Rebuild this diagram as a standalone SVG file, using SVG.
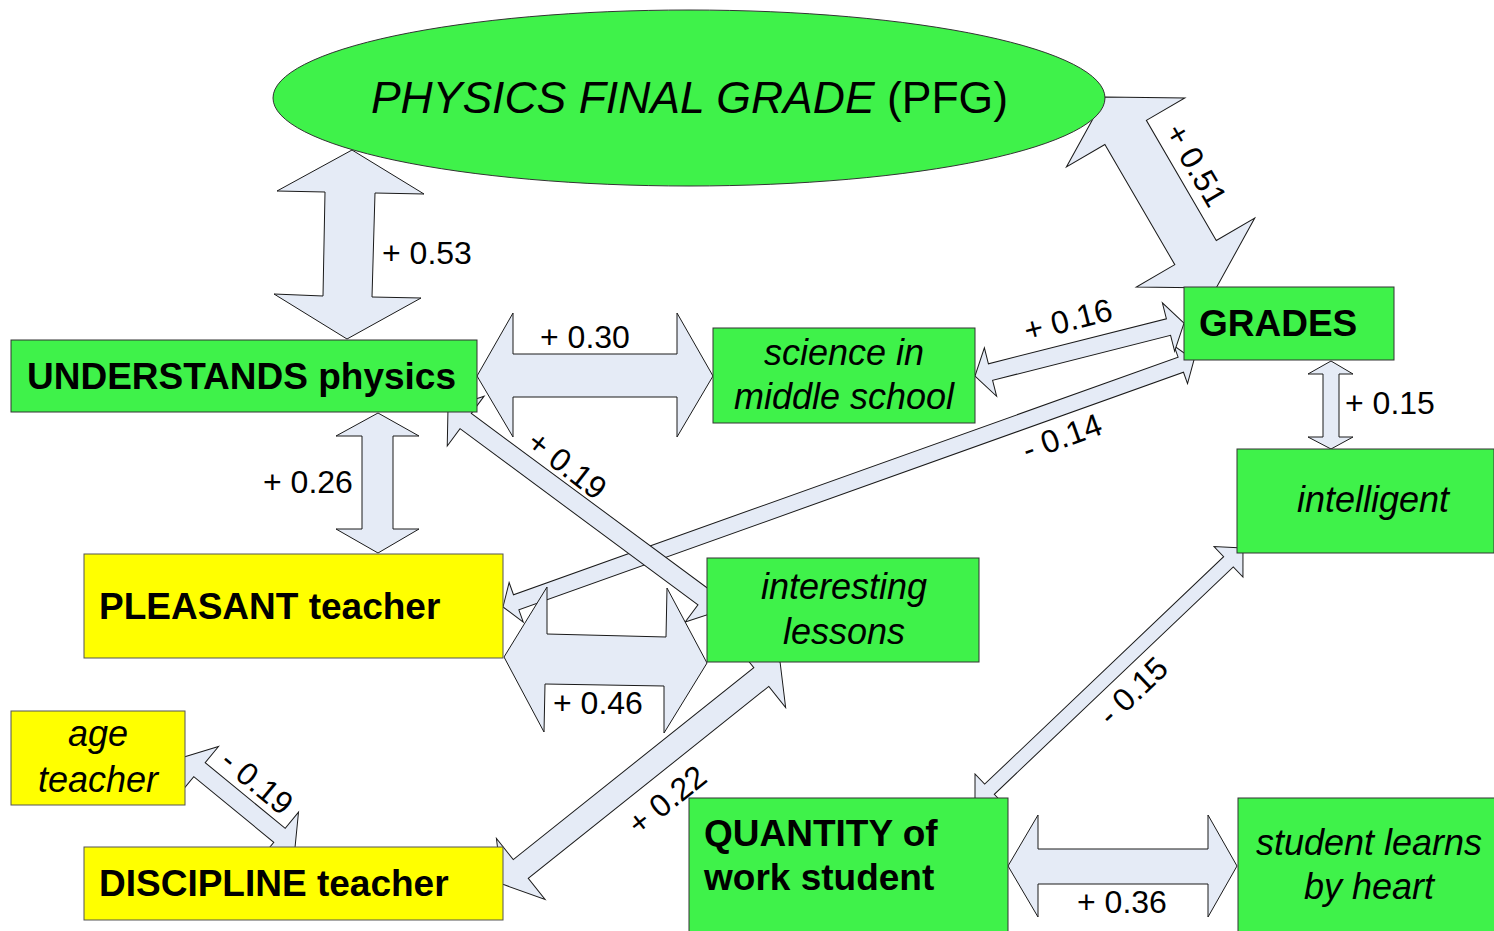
<svg xmlns="http://www.w3.org/2000/svg" width="1494" height="931" viewBox="0 0 1494 931">
<style>
.arr{fill:#e5ebf6;stroke:#1a1a1a;stroke-width:1}
.g{fill:#3ff24a;stroke:#333;stroke-width:1}
.y{fill:#ffff00;stroke:#555;stroke-width:1}
text{font-family:"Liberation Sans",Arial,sans-serif;fill:#000}
.b{font-size:37px;font-weight:bold}
.i{font-size:36px;font-style:italic}
.n{font-size:32px}
</style>
<rect width="1494" height="931" fill="#fff"/>
<g id="connectors">
  <polygon class="arr" transform="translate(503,607) rotate(-19.67)" points="0,0 14,-21 14,-8 719.8,-8 719.8,-20 733.8,0 719.8,20 719.8,8 14,8 14,21"/>
  <polygon class="arr" transform="translate(448,408) rotate(36.5)" points="0,0 22,-31 22,-9.5 318,-9.5 318,-31 340,0 318,31 318,9.5 22,9.5 22,31"/>
  <polygon class="arr" points="504,657 547,587 547,634 666,637 667,588 707,663 664,733 664,686 545,684 544,732"/>
  <polygon class="arr" points="352,150 424,194 375,193 372,297 421,298 347,339 274,294 323,296 325,192 277,191"/>
  <polygon class="arr" points="378,413 419,436 393,436 393,529 419,529 378,553 336,529 362,529 362,436 336,436"/>
  <polygon class="arr" points="1331,361 1353,374 1339,374 1339,437 1353,437 1331,449 1308,437 1323,437 1323,374 1308,374"/>
  <polygon class="arr" points="477,376 513,313 513,354 677,354 677,313 713,376 677,437 677,397 513,397 513,437"/>
  <polygon class="arr" points="1008,866 1038,815 1038,849 1208,849 1208,815 1237,866 1208,917 1208,884 1038,884 1038,917"/>
  <polygon class="arr" transform="translate(1105,97) rotate(59.8)" points="0,0 41,-68.5 41,-24 180,-24 180,-68.5 221,0 180,68.5 180,24 41,24 41,68.5"/>
  <polygon class="arr" transform="translate(975,376) rotate(-14.2)" points="0,0 16,-25 16,-8.5 199.6,-8.5 199.6,-25 215.6,0 199.6,25 199.6,8.5 16,8.5 16,25"/>
  <polygon class="arr" transform="translate(502,884) rotate(-38.6)" points="0,0 24,-39 24,-12 331.8,-12 331.8,-39 355.8,0 331.8,39 331.8,12 24,12 24,39"/>
  <polygon class="arr" transform="translate(184,757) rotate(39.35)" points="0,0 20,-30 20,-9 123.5,-9 123.5,-30 143.5,0 123.5,30 123.5,9 20,9 20,30"/>
  <polygon class="arr" transform="translate(975,803) rotate(-43.58)" points="0,0 20,-21 20,-7 349.9,-7 349.9,-21 369.9,0 349.9,21 349.9,7 20,7 20,21"/>
  <text class="n" x="382" y="264">+ 0.53</text>
  <text class="n" x="540" y="348">+ 0.30</text>
  <text class="n" x="263" y="493">+ 0.26</text>
  <text class="n" x="1345" y="414">+ 0.15</text>
  <text class="n" x="553" y="714">+ 0.46</text>
  <text class="n" x="1077" y="913">+ 0.36</text>
  <text class="n" text-anchor="middle" transform="translate(1196,165) rotate(59.8)" y="11">+ 0.51</text>
  <text class="n" text-anchor="middle" transform="translate(1068,320) rotate(-14.2)" y="11">+ 0.16</text>
  <text class="n" text-anchor="middle" transform="translate(1062,437) rotate(-19.67)" y="11">- 0.14</text>
  <text class="n" text-anchor="middle" transform="translate(567,465) rotate(37.8)" y="11">+ 0.19</text>
  <text class="n" text-anchor="middle" transform="translate(1133,691) rotate(-43.58)" y="11">- 0.15</text>
  <text class="n" text-anchor="middle" transform="translate(257,782) rotate(39.35)" y="11">- 0.19</text>
  <text class="n" text-anchor="middle" transform="translate(667,800) rotate(-38.6)" y="11">+ 0.22</text>
</g>
<g id="pfg">
  <ellipse class="g" cx="689" cy="98" rx="416" ry="88"/>
  <text x="689.5" y="113" text-anchor="middle" font-size="44.5"><tspan font-style="italic">PHYSICS FINAL GRADE</tspan> (PFG)</text>
</g>
<g id="understands">
  <rect class="g" x="11" y="340" width="466" height="72"/>
  <text class="b" x="27" y="389">UNDERSTANDS physics</text>
</g>
<g id="science">
  <rect class="g" x="713" y="328" width="262" height="95"/>
  <text class="i" x="844" y="365" text-anchor="middle">science in</text>
  <text class="i" x="844" y="409" text-anchor="middle">middle school</text>
</g>
<g id="grades">
  <rect class="g" x="1184" y="287" width="210" height="73"/>
  <text class="b" x="1199" y="336">GRADES</text>
</g>
<g id="intelligent">
  <rect class="g" x="1237" y="449" width="257" height="104"/>
  <text class="i" x="1373" y="512" text-anchor="middle">intelligent</text>
</g>
<g id="pleasant">
  <rect class="y" x="84" y="554" width="419" height="104"/>
  <text class="b" x="99" y="619">PLEASANT teacher</text>
</g>
<g id="interesting">
  <rect class="g" x="707" y="558" width="272" height="104"/>
  <text class="i" x="844" y="599" text-anchor="middle">interesting</text>
  <text class="i" x="844" y="644" text-anchor="middle">lessons</text>
</g>
<g id="age">
  <rect class="y" x="11" y="711" width="174" height="94"/>
  <text class="i" x="98" y="746" text-anchor="middle">age</text>
  <text class="i" x="98" y="792" text-anchor="middle">teacher</text>
</g>
<g id="discipline">
  <rect class="y" x="84" y="847" width="419" height="73"/>
  <text class="b" x="99" y="896">DISCIPLINE teacher</text>
</g>
<g id="quantity">
  <rect class="g" x="689" y="798" width="319" height="140"/>
  <text class="b" x="704" y="846">QUANTITY of</text>
  <text class="b" x="704" y="890">work student</text>
</g>
<g id="learns">
  <rect class="g" x="1238" y="798" width="260" height="140"/>
  <text class="i" x="1369" y="855" text-anchor="middle">student learns</text>
  <text class="i" x="1369" y="899" text-anchor="middle">by heart</text>
</g>
</svg>
